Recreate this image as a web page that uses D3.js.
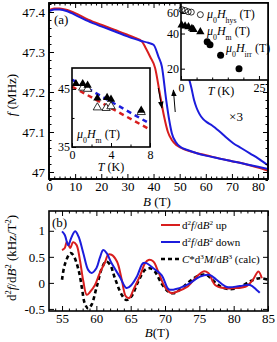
<!DOCTYPE html>
<html>
<head>
<meta charset="utf-8">
<script src="https://cdn.jsdelivr.net/npm/d3@7"></script>
<style>
  body { margin: 0; background: #fff; }
  svg { display: block; font-family: "Liberation Serif", "Times New Roman", serif; }
</style>
</head>
<body>
<svg id="chart" width="277" height="342"></svg>
<script>
// ---- data, panel (a) main curves: B (T), f (MHz)
var upB = [0, 2, 4, 7, 10, 15, 20, 25, 30, 33, 35.6, 37, 38.7, 40.6, 42.3, 44, 45.5, 47, 49, 52, 56, 60, 65, 70, 75, 80, 84];
var upF = [47.405, 47.409, 47.409, 47.405, 47.397, 47.381, 47.368, 47.356, 47.343, 47.335, 47.326, 47.31, 47.288, 47.26, 47.2, 47.14, 47.1, 47.08, 47.066, 47.056, 47.048, 47.042, 47.034, 47.027, 47.02, 47.011, 47.003];
var downB = [0, 2, 4, 7, 10, 15, 20, 25, 30, 35, 38, 40, 41.9, 43.2, 44.85, 46, 47, 48.5, 50.2, 53, 56.6, 60, 65, 70, 75, 80, 84];
var downF = [47.402, 47.406, 47.406, 47.402, 47.393, 47.377, 47.364, 47.352, 47.339, 47.328, 47.323, 47.318, 47.288, 47.263, 47.18, 47.13, 47.097, 47.075, 47.063, 47.055, 47.047, 47.041, 47.034, 47.027, 47.02, 47.013, 47.007];
// down sweep magnified x3
var x3B = [53.3, 54.5, 55.5, 56.5, 57.5, 59, 60.5, 62.3, 64, 65.5, 67.5, 70.5, 73.5, 77, 80, 82.6, 84];
var x3F = [47.24, 47.21, 47.18, 47.16, 47.146, 47.132, 47.124, 47.117, 47.108, 47.1, 47.088, 47.072, 47.06, 47.046, 47.034, 47.022, 47.016];

// ---- inset 1 (T in K, field in T, log axis)
var hysT = [0.3, 1.3, 2.3, 3.3, 6.2];
var hysV = [64, 63, 61.5, 61, 58];
var mT = [0.2, 1.3, 2.4, 3.5, 4.0, 6.2];
var mV = [47.3, 46.3, 45.6, 44.2, 43.3, 41.4];
var irrT = [8.4, 9.3, 12.7, 18.6];
var irrV = [34, 32, 26, 20];

// ---- inset 2
var m2FilledT = [0.4, 1.1, 1.6, 2.6, 3.6, 4.0, 7.1];
var m2FilledV = [45.9, 45.9, 45.6, 43.4, 43.5, 43.2, 41.3];
var m2OpenT = [1.1, 1.6, 2.6, 3.5, 4.0, 7.1];
var m2OpenV = [45.2, 45.0, 41.8, 41.7, 42.0, 41.0];
var fitT = [0, 7.9];
var blueFitV = [46.6, 39.1];
var redFitV = [45.4, 38.1];

// ---- panel (b): B (T), d2f/dB2 (kHz/T^2)
var d2upB = [55, 55.4, 55.7, 56.2, 56.6, 57.1, 57.6, 58.1, 58.6, 59.1, 59.8, 60.5, 61.3, 61.7, 62.2, 63, 63.7, 64.3, 64.8, 65.4, 66.4, 67.1, 67.6, 68.3, 69, 70, 71, 71.7, 73.2, 74.6, 75.6, 76.3, 77.3, 78.5, 80.4, 81.9, 82.8, 83.6, 84.1];
var d2upV = [0.63, 0.67, 0.79, 0.67, 0.78, 0.73, 0.44, 0.03, -0.23, -0.17, -0.04, 0.19, 0.41, 0.54, 0.54, 0.41, 0.06, -0.26, -0.29, -0.13, 0.15, 0.38, 0.44, 0.41, 0.22, -0.08, -0.2, -0.17, -0.08, 0.12, 0.22, 0.19, -0.04, -0.1, -0.1, -0.06, 0.06, 0.22, 0.09];
var d2downB = [55, 55.4, 55.9, 56.3, 56.9, 57.4, 58.1, 58.8, 59.3, 60, 60.5, 61, 61.5, 62.2, 63.4, 64.4, 65.1, 65.9, 66.8, 67.3, 68.3, 69.5, 70.5, 71.2, 73.2, 75.1, 76.5, 77.5, 79, 80.9, 82.4, 83.3, 83.8];
var d2downV = [0.99, 0.92, 0.72, 0.85, 0.99, 0.89, 0.57, 0.25, 0.19, 0.28, 0.48, 0.63, 0.57, 0.38, 0.12, -0.1, -0.04, 0.12, 0.38, 0.38, 0.28, 0.15, -0.12, -0.13, -0.04, 0.12, 0.15, 0.06, -0.08, -0.06, -0.04, -0.13, -0.19];
var calcB = [55, 55.4, 56.2, 56.6, 57.4, 57.9, 58.3, 58.8, 59.3, 60, 60.8, 61.4, 62, 62.7, 63.7, 64.4, 65.1, 66.1, 67.1, 67.8, 68.5, 69.5, 70.5, 71.2, 72.2, 73.6, 75.1, 76.1, 77.1, 78.2, 79.5, 80.9, 82.4, 83.8, 85];
var calcV = [0.06, 0.35, 0.57, 0.54, 0.25, -0.1, -0.39, -0.49, -0.42, -0.1, 0.28, 0.41, 0.35, 0.09, -0.23, -0.33, -0.26, 0.03, 0.25, 0.28, 0.22, -0.01, -0.17, -0.2, -0.13, 0.03, 0.15, 0.15, 0.03, -0.08, -0.12, -0.08, 0.03, 0.09, 0.06];

var RED = "#d81e1e", BLUE = "#1c1cdc";

var svg = d3.select("#chart");

function zip(a, b) { return a.map(function(v, i) { return [v, b[i]]; }); }

// text with italic / super / sub pieces
function rich(t, parts) {
  parts.forEach(function(p) {
    var s = t.append("tspan").text(p[0]);
    if (p[1].indexOf("i") >= 0) s.attr("font-style", "italic");
    if (p[1].indexOf("sup") >= 0) s.attr("baseline-shift", "super").attr("font-size", "65%");
    if (p[1].indexOf("sub") >= 0) s.attr("baseline-shift", "sub").attr("font-size", "65%");
  });
  return t;
}

// inward ticks on all four sides, labels on bottom / left
function axes(g, x, y, o) {
  var r = x.range(), d = y.range();
  var x0 = r[0], x1 = r[1], yB = d[0], yT = d[1];
  g.append("g").attr("transform", "translate(0," + yB + ")")
    .call(d3.axisBottom(x).tickValues(o.xMajor).tickSize(-o.major).tickPadding(o.xPad).tickFormat(o.xFmt || d3.format("")));
  g.append("g").attr("transform", "translate(" + x0 + ",0)")
    .call(d3.axisLeft(y).tickValues(o.yMajor).tickSize(-o.major).tickPadding(o.yPad).tickFormat(o.yFmt || d3.format("")));
  if (o.xMinor) g.append("g").attr("transform", "translate(0," + yB + ")")
    .call(d3.axisBottom(x).tickValues(o.xMinor).tickSize(-o.minor).tickFormat(""));
  if (o.yMinor) g.append("g").attr("transform", "translate(" + x0 + ",0)")
    .call(d3.axisLeft(y).tickValues(o.yMinor).tickSize(-o.minor).tickFormat(""));
  if (o.mirror) {
    g.append("g").attr("transform", "translate(0," + yT + ")")
      .call(d3.axisTop(x).tickValues(o.xMajor).tickSize(-o.major).tickFormat(""));
    g.append("g").attr("transform", "translate(" + x1 + ",0)")
      .call(d3.axisRight(y).tickValues(o.yMajor).tickSize(-o.major).tickFormat(""));
    if (o.xMinor) g.append("g").attr("transform", "translate(0," + yT + ")")
      .call(d3.axisTop(x).tickValues(o.xMinor).tickSize(-o.minor).tickFormat(""));
    if (o.yMinor) g.append("g").attr("transform", "translate(" + x1 + ",0)")
      .call(d3.axisRight(y).tickValues(o.yMinor).tickSize(-o.minor).tickFormat(""));
  }
  g.selectAll(".domain").remove();
  g.selectAll(".tick line").attr("stroke", "#000").attr("stroke-width", 1);
  g.selectAll(".tick text").attr("font-family", "Liberation Serif").attr("font-size", o.fs).attr("fill", "#000");
  g.append("rect").attr("x", x0).attr("y", yT).attr("width", x1 - x0).attr("height", yB - yT)
    .attr("fill", "none").attr("stroke", "#000").attr("stroke-width", 1.6);
}

function range(a, b, s) { return d3.range(a, b + s / 2, s).map(function(v) { return +v.toFixed(4); }); }

// ================= panel (a)
var xa = d3.scaleLinear([0, 83.8], [49, 268]);
var ya = d3.scaleLinear([46.9825, 47.4225], [179, 3]);
var ga = svg.append("g");

svg.append("defs").append("clipPath").attr("id", "clipA").append("rect")
  .attr("x", 49).attr("y", 3).attr("width", 219).attr("height", 176);
var defs = svg.select("defs");
defs.append("marker").attr("id", "ah").attr("viewBox", "0 0 10 10").attr("refX", 9).attr("refY", 5)
  .attr("markerWidth", 7).attr("markerHeight", 7).attr("orient", "auto-start-reverse")
  .append("path").attr("d", "M0,1 L10,5 L0,9 Z").attr("fill", "#000");

var lineA = d3.line().x(function(d) { return xa(d[0]); }).y(function(d) { return ya(d[1]); }).curve(d3.curveMonotoneX);
var curvesA = ga.append("g").attr("clip-path", "url(#clipA)");
curvesA.append("path").attr("d", lineA(zip(upB, upF))).attr("fill", "none").attr("stroke", RED).attr("stroke-width", 2);
curvesA.append("path").attr("d", lineA(zip(downB, downF))).attr("fill", "none").attr("stroke", BLUE).attr("stroke-width", 2);
curvesA.append("path").attr("d", lineA(zip(x3B, x3F))).attr("fill", "none").attr("stroke", BLUE).attr("stroke-width", 2);

ga.append("text").attr("x", 236).attr("y", 121).attr("font-size", 13).attr("text-anchor", "middle").text("×3");

// sweep arrows
ga.append("line").attr("x1", xa(41.8)).attr("y1", ya(47.21)).attr("x2", xa(43.2)).attr("y2", ya(47.16))
  .attr("stroke", "#000").attr("stroke-width", 1).attr("marker-end", "url(#ah)");
ga.append("line").attr("x1", xa(48.3)).attr("y1", ya(47.15)).attr("x2", xa(47.6)).attr("y2", ya(47.205))
  .attr("stroke", "#000").attr("stroke-width", 1).attr("marker-end", "url(#ah)");

axes(ga, xa, ya, {
  xMajor: range(0, 80, 10), xMinor: range(0, 82, 2).filter(function(v) { return v % 10; }),
  yMajor: [47, 47.1, 47.2, 47.3, 47.4], yMinor: range(46.98, 47.42, 0.02).filter(function(v) { return Math.round(v * 100) % 10; }),
  major: 5, minor: 2.5, xPad: 3, yPad: 4, fs: 13, mirror: true,
  yFmt: function(v) { return v === 47 ? "47" : d3.format(".1f")(v); }
});
ga.append("text").attr("x", 54).attr("y", 24).attr("font-size", 13).text("(a)");
rich(ga.append("text").attr("x", 157).attr("y", 206).attr("font-size", 13).attr("text-anchor", "middle"),
  [["B", "i"], [" (T)", ""]]);
rich(ga.append("text").attr("transform", "translate(16,95) rotate(-90)").attr("font-size", 13).attr("text-anchor", "middle"),
  [["f", "i"], [" (MHz)", ""]]);

// ---- inset 2 (left)
var xi2 = d3.scaleLinear([0, 8], [72, 150]);
var yi2 = d3.scaleLinear([35, 48.6], [147, 68]);
var gi2 = svg.append("g");
gi2.append("rect").attr("x", 72).attr("y", 68).attr("width", 78).attr("height", 79).attr("fill", "#fff");
var lineI2 = d3.line().x(function(d) { return xi2(d[0]); }).y(function(d) { return yi2(d[1]); });
gi2.append("path").attr("d", lineI2(zip(fitT, blueFitV))).attr("stroke", BLUE).attr("stroke-width", 2.5).attr("stroke-dasharray", "5,4").attr("fill", "none");
gi2.append("path").attr("d", lineI2(zip(fitT, redFitV))).attr("stroke", RED).attr("stroke-width", 2.5).attr("stroke-dasharray", "5,4").attr("fill", "none");
var tri = d3.symbol().type(d3.symbolTriangle).size(30);
gi2.selectAll("path.fo").data(zip(m2OpenT, m2OpenV)).enter().append("path").attr("class", "fo")
  .attr("d", tri).attr("transform", function(d) { return "translate(" + xi2(d[0]) + "," + yi2(d[1]) + ")"; })
  .attr("fill", "#fff").attr("stroke", "#000").attr("stroke-width", 0.8);
gi2.selectAll("path.ff").data(zip(m2FilledT, m2FilledV)).enter().append("path").attr("class", "ff")
  .attr("d", tri).attr("transform", function(d) { return "translate(" + xi2(d[0]) + "," + yi2(d[1]) + ")"; })
  .attr("fill", "#000");
axes(gi2, xi2, yi2, {
  xMajor: [0, 4, 8], xMinor: [2, 6], yMajor: [35, 45], yMinor: [40],
  major: 4, minor: 2.5, xPad: 3, yPad: 2, fs: 12, mirror: false
});
rich(gi2.append("text").attr("x", 111).attr("y", 171).attr("font-size", 12).attr("text-anchor", "middle"),
  [["T", "i"], [" (K)", ""]]);
rich(gi2.append("text").attr("x", 77).attr("y", 138).attr("font-size", 12),
  [["μ", "i"], ["0", "sub"], ["H", "i"], ["m", "sub"], [" (T)", ""]]);

// ---- inset 1 (top right)
var xi1 = d3.scaleLinear([0, 27.9], [181, 268]);
var yi1 = d3.scaleLog([16, 73], [80, 3]);
var gi1 = svg.append("g");
gi1.append("rect").attr("x", 181).attr("y", 3).attr("width", 87).attr("height", 77).attr("fill", "#fff");
gi1.selectAll("circle.h").data(zip(hysT, hysV)).enter().append("circle").attr("class", "h")
  .attr("cx", function(d) { return xi1(d[0]); }).attr("cy", function(d) { return yi1(d[1]); }).attr("r", 3)
  .attr("fill", "none").attr("stroke", "#000").attr("stroke-width", 0.8);
gi1.selectAll("path.m").data(zip(mT, mV)).enter().append("path").attr("class", "m")
  .attr("d", tri).attr("transform", function(d) { return "translate(" + xi1(d[0]) + "," + yi1(d[1]) + ")"; })
  .attr("fill", "#000");
gi1.selectAll("circle.r").data(zip(irrT, irrV)).enter().append("circle").attr("class", "r")
  .attr("cx", function(d) { return xi1(d[0]); }).attr("cy", function(d) { return yi1(d[1]); }).attr("r", 3.5)
  .attr("fill", "#000");
axes(gi1, xi1, yi1, {
  xMajor: [0, 25], xMinor: [5, 10, 15, 20], yMajor: [20, 40, 60], yMinor: null,
  major: 4, minor: 2.5, xPad: 3, yPad: 2, fs: 12, mirror: false
});
rich(gi1.append("text").attr("x", 221).attr("y", 95).attr("font-size", 12).attr("text-anchor", "middle"),
  [["T", "i"], [" (K)", ""]]);
rich(gi1.append("text").attr("x", 207).attr("y", 18).attr("font-size", 12),
  [["μ", "i"], ["0", "sub"], ["H", "i"], ["hys", "sub"], [" (T)", ""]]);
rich(gi1.append("text").attr("x", 207).attr("y", 35).attr("font-size", 12),
  [["μ", "i"], ["0", "sub"], ["H", "i"], ["m", "sub"], [" (T)", ""]]);
rich(gi1.append("text").attr("x", 226).attr("y", 52).attr("font-size", 12),
  [["μ", "i"], ["0", "sub"], ["H", "i"], ["irr", "sub"], [" (T)", ""]]);

// main frame on top
ga.append("rect").attr("x", 49).attr("y", 3).attr("width", 219).attr("height", 176)
  .attr("fill", "none").attr("stroke", "#000").attr("stroke-width", 1.6);

// ================= panel (b)
var xb = d3.scaleLinear([53.1, 85], [49, 268]);
var yb = d3.scaleLinear([-0.54, 1.38], [311, 211]);
var gb = svg.append("g");
defs.append("clipPath").attr("id", "clipB").append("rect")
  .attr("x", 49).attr("y", 211).attr("width", 219).attr("height", 100);
var lineB = d3.line().x(function(d) { return xb(d[0]); }).y(function(d) { return yb(d[1]); }).curve(d3.curveCatmullRom);
var curvesB = gb.append("g").attr("clip-path", "url(#clipB)");
curvesB.append("path").attr("d", lineB(zip(calcB, calcV))).attr("fill", "none").attr("stroke", "#000").attr("stroke-width", 2.6).attr("stroke-dasharray", "4,3");
curvesB.append("path").attr("d", lineB(zip(d2upB, d2upV))).attr("fill", "none").attr("stroke", RED).attr("stroke-width", 2);
curvesB.append("path").attr("d", lineB(zip(d2downB, d2downV))).attr("fill", "none").attr("stroke", BLUE).attr("stroke-width", 2);

axes(gb, xb, yb, {
  xMajor: range(55, 85, 5), xMinor: range(54, 85, 1).filter(function(v) { return v % 5; }),
  yMajor: [-0.5, 0, 0.5, 1], yMinor: null,
  major: 5, minor: 2.5, xPad: 3, yPad: 4, fs: 13, mirror: true,
  yFmt: function(v) { return v === 0 ? "0" : v === 1 ? "1" : String(v); }
});
gb.append("text").attr("x", 52).attr("y", 227).attr("font-size", 13).text("(b)");
rich(gb.append("text").attr("x", 157).attr("y", 337).attr("font-size", 13).attr("text-anchor", "middle"),
  [["B", "i"], ["(T)", ""]]);
rich(gb.append("text").attr("transform", "translate(16,258) rotate(-90)").attr("font-size", 13).attr("text-anchor", "middle"),
  [["d", ""], ["2", "sup"], ["f", "i"], ["/d", ""], ["B", "i"], ["2", "sup"], [" (kHz/T", ""], ["2", "sup"], [")", ""]]);

// legend
var leg = [
  { c: RED, dash: null, parts: [["d", ""], ["2", "sup"], ["f", "i"], ["/d", ""], ["B", "i"], ["2", "sup"], [" up", ""]] },
  { c: BLUE, dash: null, parts: [["d", ""], ["2", "sup"], ["f", "i"], ["/d", ""], ["B", "i"], ["2", "sup"], [" down", ""]] },
  { c: "#000", dash: "4,3", parts: [["C", "i"], ["*d", ""], ["3", "sup"], ["M", "i"], ["/d", ""], ["B", "i"], ["3", "sup"], [" (calc)", ""]] }
];
leg.forEach(function(l, i) {
  var yy = 225 + i * 17;
  gb.append("line").attr("x1", 161).attr("x2", 180).attr("y1", yy).attr("y2", yy)
    .attr("stroke", l.c).attr("stroke-width", l.dash ? 2.6 : 2).attr("stroke-dasharray", l.dash);
  rich(gb.append("text").attr("x", 182).attr("y", yy + 4).attr("font-size", 11), l.parts);
});
</script>
</body>
</html>
